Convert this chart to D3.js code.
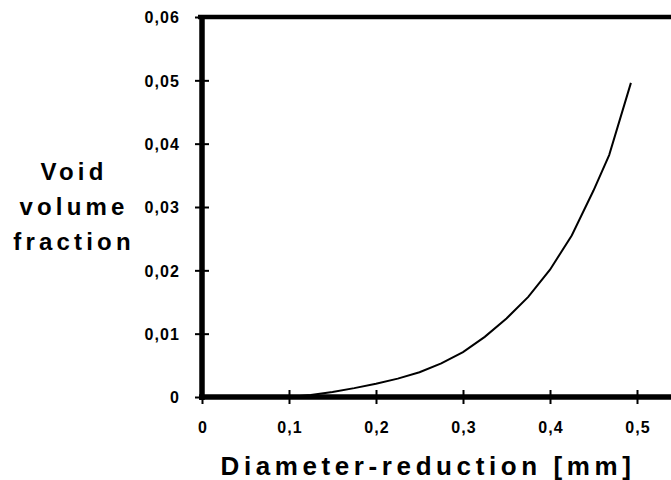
<!DOCTYPE html>
<html><head><meta charset="utf-8">
<script src="https://cdn.jsdelivr.net/npm/d3@7"></script>
<style>body{margin:0;background:#fff}svg{display:block}text{font-family:"Liberation Sans",Arial,sans-serif;font-weight:bold;fill:#000}</style>
</head><body><svg id="c" width="671" height="480"></svg>
<script>
const diameterReduction = [0.1, 0.125, 0.15, 0.175, 0.2, 0.225, 0.25, 0.275, 0.3, 0.325, 0.35, 0.375, 0.4, 0.425, 0.45, 0.468, 0.493];
const voidFraction = [0, 0.0003, 0.0008, 0.0014, 0.0021, 0.0029, 0.0039, 0.0053, 0.0071, 0.0095, 0.0124, 0.0158, 0.0201, 0.0255, 0.0326, 0.0382, 0.0496];
const xTicks = [0, 0.1, 0.2, 0.3, 0.4, 0.5];
const yTicks = [0, 0.01, 0.02, 0.03, 0.04, 0.05, 0.06];
const yTitleLines = ["Void", "volume", "fraction"];
const xTitle = "Diameter-reduction [mm]";

const svg = d3.select("#c");
const x = d3.scaleLinear().domain([0, 0.5]).range([202, 637]);
const y = d3.scaleLinear().domain([0, 0.06]).range([397, 17]);
const fmt = v => v === 0 ? "0" : d3.format(".2f")(v).replace(".", ",");
const fmtX = v => v === 0 ? "0" : d3.format(".1f")(v).replace(".", ",");

// top border
svg.append("line").attr("x1", 198).attr("x2", 671).attr("y1", y(0.06)).attr("y2", y(0.06))
  .attr("stroke", "#000").attr("stroke-width", 4.5);

// y axis
const ya = svg.append("g").attr("transform", `translate(${x(0)},0)`)
  .call(d3.axisLeft(y).tickValues(yTicks).tickSize(0).tickFormat(""));
ya.select(".domain").attr("stroke", "#000").attr("stroke-width", 5.5).attr("d", `M0,${y(0.06)-2}V${y(0)+3}`);
ya.selectAll(".tick line").remove();
ya.selectAll(".tick").append("line").attr("x1", -7).attr("x2", 7).attr("stroke", "#000").attr("stroke-width", 2);
ya.selectAll(".tick").append("text").attr("x", -22).attr("dy", "0.36em").attr("text-anchor", "end")
  .style("font-size", "16px").style("letter-spacing", "1.1px").text(fmt);

// x axis
const xa = svg.append("g").attr("transform", `translate(0,${y(0)})`)
  .call(d3.axisBottom(x).tickValues(xTicks).tickSize(0).tickFormat(""));
xa.select(".domain").attr("stroke", "#000").attr("stroke-width", 5.5).attr("d", `M${x(0)-3},0H671`);
xa.selectAll(".tick line").remove();
xa.selectAll(".tick").append("line").attr("y1", -7).attr("y2", 7).attr("stroke", "#000").attr("stroke-width", 2);
xa.selectAll(".tick").append("text").attr("y", 36).attr("x", 0.5).attr("text-anchor", "middle")
  .style("font-size", "16px").style("letter-spacing", "1.1px").text(fmtX);

// curve
const pts = diameterReduction.map((d, i) => [d, voidFraction[i]]);
svg.append("path").datum(pts)
  .attr("fill", "none").attr("stroke", "#000").attr("stroke-width", 2)
  .attr("d", d3.line().x(d => x(d[0])).y(d => y(d[1])));

// titles
svg.append("text").attr("x", 428).attr("y", 475).attr("text-anchor", "middle")
  .style("font-size", "26px").style("letter-spacing", "4.6px").text(xTitle);
svg.selectAll(".yt").data(yTitleLines).enter().append("text")
  .attr("x", 74).attr("y", (d, i) => 180 + i * 35).attr("text-anchor", "middle")
  .style("font-size", "24px").style("letter-spacing", "4.2px").text(d => d);
</script></body></html>
